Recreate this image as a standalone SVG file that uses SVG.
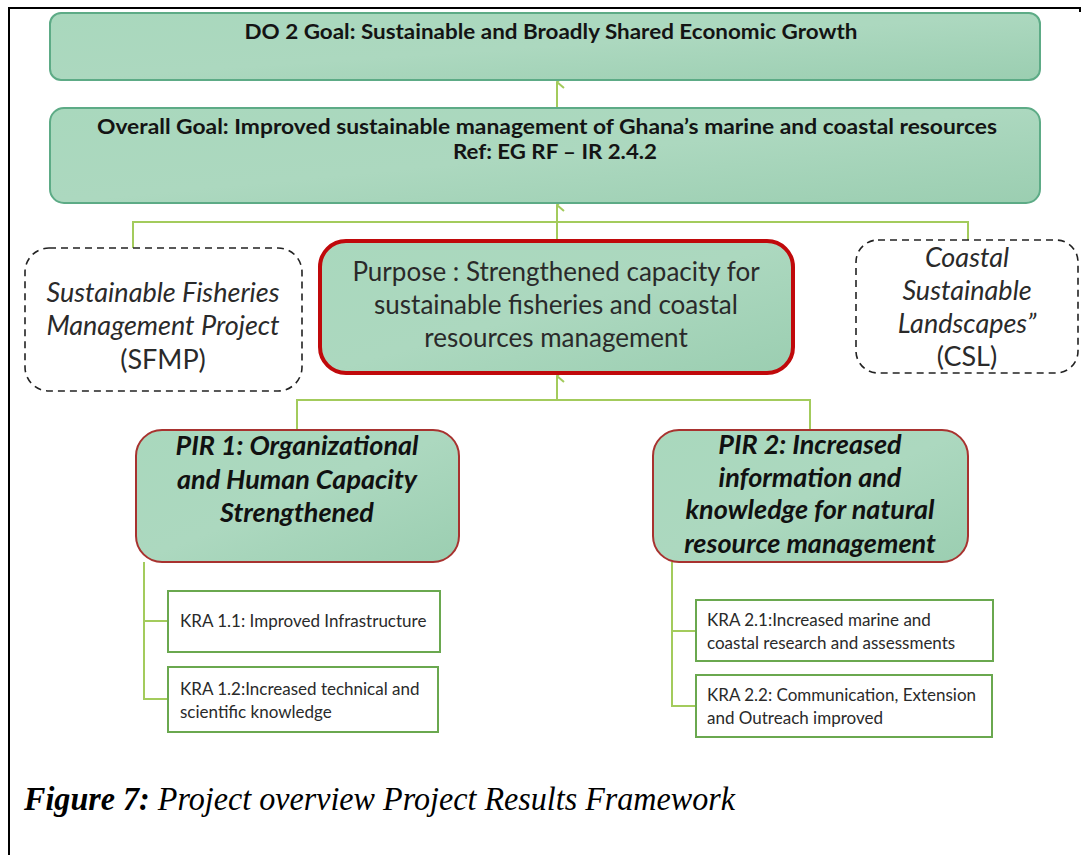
<svg xmlns="http://www.w3.org/2000/svg" width="1084" height="855" viewBox="0 0 1084 855">
<style>
.goal{fill:url(#gg);stroke:#5dab86;stroke-width:2}
.pir{fill:url(#gg);stroke:#a8322f;stroke-width:2}
.purp{fill:url(#gg);stroke:#c0090b;stroke-width:4}
.dash{fill:#fff;stroke:#222;stroke-width:1.6;stroke-dasharray:7 5}
.kra{fill:#fff;stroke:#6aa84f;stroke-width:2}
.con{fill:none;stroke:#a3cb5c;stroke-width:2}
.b{font-family:Lato,"Liberation Sans",sans-serif;font-weight:bold;fill:#141414}
.r{font-family:Lato,"Liberation Sans",sans-serif;fill:#2a2a2a}
.bi{font-family:Lato,"Liberation Sans",sans-serif;font-weight:bold;font-style:italic;fill:#111}
.i{font-family:Lato,"Liberation Sans",sans-serif;font-style:italic;fill:#2a2a2a}
.cap{font-family:"Liberation Serif",serif;font-style:italic;fill:#000}
</style>
<defs>
<linearGradient id="gg" x1="0" y1="0" x2="1" y2="1">
<stop offset="0" stop-color="#a9d8bd"/>
<stop offset="0.5" stop-color="#acd8bf"/>
<stop offset="1" stop-color="#9bceb1"/>
</linearGradient>
<marker id="ah" viewBox="0 0 14 14" refX="7" refY="1" markerWidth="14" markerHeight="14" markerUnits="userSpaceOnUse" orient="auto-start-reverse">
<path d="M1,8 L7,1 L13,8" fill="none" stroke="#a3cb5c" stroke-width="2"/>
</marker>
</defs>
<rect width="1084" height="855" fill="#fff"/>
<g id="frame" fill="none" stroke="#000" stroke-width="2">
<path d="M9,855 V8 H1080 V12"/>
</g>
<g id="connectors">
<path class="con" d="M557,107 V82" marker-end="url(#ah)"/>
<path class="con" d="M133,248 V222 H968 V240"/>
<path class="con" d="M557,240 V205" marker-end="url(#ah)"/>
<path class="con" d="M297,430 V400 H810 V430"/>
<path class="con" d="M557,400 V376" marker-end="url(#ah)"/>
<path class="con" d="M144,562 V699 H168 M144,621 H168"/>
<path class="con" d="M672,562 V706 H696 M672,631 H696"/>
</g>
<g id="do2">
<rect class="goal" x="50" y="13" width="990" height="67" rx="11"/>
<text class="b" x="551" y="39" font-size="20" text-anchor="middle" textLength="613" lengthAdjust="spacingAndGlyphs">DO 2 Goal: Sustainable and Broadly Shared Economic Growth</text>
</g>
<g id="overall">
<rect class="goal" x="50" y="108" width="990" height="95" rx="14"/>
<text class="b" x="547" y="134" font-size="20" text-anchor="middle" textLength="900" lengthAdjust="spacingAndGlyphs">Overall Goal: Improved sustainable management of Ghana’s marine and coastal  resources</text>
<text class="b" x="555" y="159" font-size="20" text-anchor="middle" textLength="204" lengthAdjust="spacingAndGlyphs">Ref: EG RF – IR 2.4.2</text>
</g>
<g id="sfmp">
<rect class="dash" x="25" y="248" width="277" height="143" rx="24"/>
<text class="i" x="163" y="302" font-size="27" text-anchor="middle">Sustainable Fisheries</text>
<text class="i" x="163" y="335" font-size="27" text-anchor="middle">Management Project</text>
<text class="r" x="163" y="369" font-size="27" text-anchor="middle">(SFMP)</text>
</g>
<g id="purpose">
<rect class="purp" x="320" y="241" width="473" height="132" rx="26"/>
<text class="r" x="556" y="281" font-size="26" text-anchor="middle">Purpose : Strengthened capacity for</text>
<text class="r" x="556" y="314" font-size="26" text-anchor="middle">sustainable fisheries and coastal</text>
<text class="r" x="556" y="347" font-size="26" text-anchor="middle">resources management</text>
</g>
<g id="csl">
<rect class="dash" x="856" y="240" width="222" height="133" rx="22"/>
<text class="i" x="967" y="267" font-size="27" text-anchor="middle">Coastal</text>
<text class="i" x="967" y="300" font-size="27" text-anchor="middle">Sustainable</text>
<text class="i" x="967" y="333" font-size="27" text-anchor="middle">Landscapes”</text>
<text class="r" x="967" y="366" font-size="27" text-anchor="middle">(CSL)</text>
</g>
<g id="pir1">
<rect class="pir" x="136" y="430" width="323" height="132" rx="26"/>
<text class="bi" x="297" y="455" font-size="27" text-anchor="middle">PIR 1: Organizational</text>
<text class="bi" x="297" y="489" font-size="27" text-anchor="middle">and Human Capacity</text>
<text class="bi" x="297" y="522" font-size="27" text-anchor="middle">Strengthened</text>
</g>
<g id="pir2">
<rect class="pir" x="653" y="430" width="315" height="132" rx="26"/>
<text class="bi" x="810" y="454" font-size="27" text-anchor="middle">PIR 2: Increased</text>
<text class="bi" x="810" y="487" font-size="27" text-anchor="middle">information and</text>
<text class="bi" x="810" y="519" font-size="27" text-anchor="middle">knowledge for natural</text>
<text class="bi" x="810" y="553" font-size="27" text-anchor="middle">resource management</text>
</g>
<g id="kra11">
<rect class="kra" x="168" y="591" width="272" height="61"/>
<text class="r" x="180" y="627" font-size="17">KRA 1.1:  Improved Infrastructure</text>
</g>
<g id="kra12">
<rect class="kra" x="168" y="667" width="270" height="65"/>
<text class="r" x="180" y="695" font-size="17">KRA 1.2:Increased technical and</text>
<text class="r" x="180" y="718" font-size="17">scientific knowledge</text>
</g>
<g id="kra21">
<rect class="kra" x="696" y="600" width="297" height="61"/>
<text class="r" x="707" y="626" font-size="17">KRA 2.1:Increased marine and</text>
<text class="r" x="707" y="649" font-size="17">coastal research and assessments</text>
</g>
<g id="kra22">
<rect class="kra" x="696" y="675" width="296" height="62"/>
<text class="r" x="707" y="701" font-size="17">KRA 2.2:  Communication, Extension</text>
<text class="r" x="707" y="724" font-size="17">and Outreach improved</text>
</g>
<g id="caption">
<text class="cap" x="24" y="810" font-size="34" textLength="711" lengthAdjust="spacingAndGlyphs"><tspan font-weight="bold">Figure 7:</tspan> Project overview Project Results Framework</text>
</g>
</svg>
